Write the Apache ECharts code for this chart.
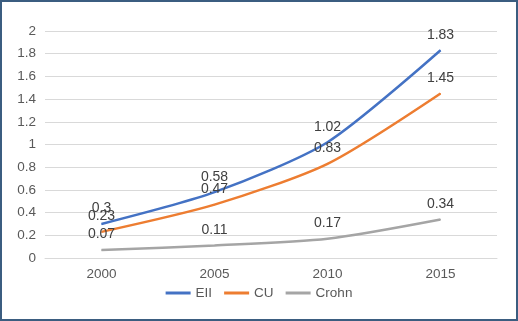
<!DOCTYPE html>
<html>
<head>
<meta charset="utf-8">
<script src="https://cdn.jsdelivr.net/npm/echarts@6/dist/echarts.min.js"></script>
<style>
  html, body { margin: 0; padding: 0; background: #fff; }
  #wrap { position: relative; width: 518px; height: 321px; }
  #chart { position: absolute; left: 0; top: 0; width: 518px; height: 321px; }
  #frame { position: absolute; left: 0; top: 0; width: 518px; height: 321px; box-sizing: border-box;
           border: 2px solid #3b5d80; pointer-events: none; }
</style>
</head>
<body>
<div id="wrap">
  <div id="chart"></div>
  <div id="frame"></div>
</div>
<script>
// 数据
var years = ['2000', '2005', '2010', '2015'];
var eii = [0.3, 0.58, 1.02, 1.83];
var cu = [0.23, 0.47, 0.83, 1.45];
var crohn = [0.07, 0.11, 0.17, 0.34];

var Chart = echarts.init(document.getElementById('chart'));
var font = 'Liberation Sans, Arial, sans-serif';

function mkSeries(name, data, color) {
  return {
    name: name,
    type: 'line',
    data: data,
    smooth: 0.25,
    symbol: 'circle',
    symbolSize: 1,
    showSymbol: true,
    lineStyle: { color: color, width: 2.5 },
    itemStyle: { color: color },
    label: {
      show: true,
      position: 'top',
      distance: 8,
      color: '#404040',
      fontSize: 14,
      fontFamily: font
    }
  };
}

var option = {
  animation: false,
  backgroundColor: '#fff',
  grid: { left: 45, right: 21, top: 31, bottom: 63 },
  legend: {
    bottom: 16,
    left: 'center',
    itemWidth: 25,
    itemHeight: 3,
    itemGap: 12,
    icon: 'rect',
    textStyle: { color: '#595959', fontSize: 13.5, fontFamily: font },
    data: ['EII', 'CU', 'Crohn']
  },
  xAxis: {
    type: 'category',
    data: years,
    boundaryGap: true,
    axisLine: { lineStyle: { color: '#d9d9d9' } },
    axisTick: { show: false },
    axisLabel: { color: '#595959', fontSize: 13.5, fontFamily: font, margin: 9 }
  },
  yAxis: {
    type: 'value',
    min: 0,
    max: 2,
    interval: 0.2,
    axisLine: { show: false },
    axisTick: { show: false },
    axisLabel: { color: '#595959', fontSize: 13.5, fontFamily: font, margin: 9 },
    splitLine: { lineStyle: { color: '#d9d9d9' } }
  },
  series: [
    mkSeries('EII', eii, '#4472c4'),
    mkSeries('CU', cu, '#ed7d31'),
    mkSeries('Crohn', crohn, '#a5a5a5')
  ]
};
Chart.setOption(option);
</script>
</body>
</html>
